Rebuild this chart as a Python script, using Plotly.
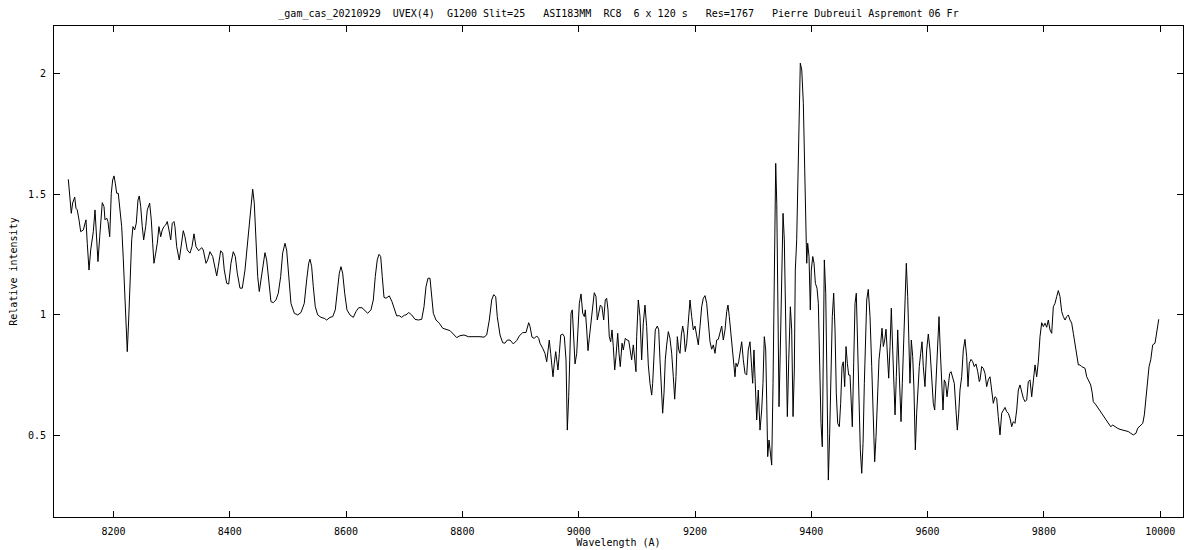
import plotly.graph_objects as go

title_text = "_gam_cas_20210929  UVEX(4)  G1200 Slit=25   ASI183MM  RC8  6 x 120 s   Res=1767   Pierre Dubreuil Aspremont 06 Fr"
x_label = "Wavelength (A)"
y_label = "Relative intensity"

x_ticks = [8200, 8400, 8600, 8800, 9000, 9200, 9400, 9600, 9800, 10000]
y_ticks = [0.5, 1, 1.5, 2]

wavelength = [
    8122.3, 8124.7, 8127.4, 8129.8, 8133.3, 8135.5, 8137.7, 8140.7, 8143.6, 8148.1,
    8152.7, 8154.9, 8157.9, 8160.8, 8162.5, 8165.3, 8168.2, 8171.1, 8173.3, 8176.3,
    8179.0, 8180.7, 8183.7, 8185.4, 8188.3, 8190.5, 8193.5, 8196.2, 8198.6, 8200.9,
    8203.1, 8205.5, 8208.2, 8211.2, 8214.1, 8216.8, 8219.8, 8222.0, 8223.7, 8226.1,
    8228.4, 8231.3, 8233.5, 8236.4, 8239.2, 8242.1, 8244.3, 8246.8, 8249.5, 8251.9,
    8255.4, 8258.1, 8262.2, 8265.0, 8267.4, 8269.6, 8272.6, 8275.3, 8278.2, 8281.2,
    8283.9, 8286.8, 8289.8, 8292.5, 8295.4, 8298.4, 8301.1, 8304.0,
    8305.7, 8308.7, 8313.1, 8317.3, 8320.0, 8322.9, 8326.9, 8331.5, 8335.0, 8338.4,
    8341.9, 8346.5, 8351.7, 8354.4, 8359.1, 8362.0, 8365.9, 8370.6, 8374.5, 8377.5,
    8380.2, 8384.3, 8387.8, 8390.5, 8394.7, 8398.1, 8402.0, 8406.0, 8409.5, 8412.9,
    8417.5, 8421.5, 8426.1, 8430.1, 8433.5, 8436.4, 8439.4, 8442.1, 8445.0, 8448.0,
    8450.7, 8453.6, 8457.6, 8460.5, 8463.4, 8466.9, 8470.8, 8474.8, 8479.4, 8483.4,
    8487.5, 8490.9, 8494.9, 8497.8, 8500.6,
    8505.2, 8510.9, 8516.8, 8522.4, 8528.1, 8532.2, 8535.7, 8537.9, 8540.8, 8543.6,
    8547.0, 8551.2, 8556.8, 8562.5, 8566.6, 8572.3, 8577.0, 8581.4, 8585.5, 8588.3,
    8591.2, 8594.1, 8597.6, 8601.5, 8606.7, 8612.4, 8617.0, 8621.7, 8627.3, 8632.0,
    8637.1, 8642.8, 8646.8, 8650.2, 8653.6, 8656.6, 8659.5, 8662.2, 8665.2, 8668.6,
    8674.3, 8678.9, 8682.9, 8687.0, 8691.5, 8695.6, 8700.1,
    8703.0, 8707.7, 8712.8, 8718.5, 8724.2, 8730.0, 8734.0, 8737.4, 8740.8, 8744.3,
    8747.2, 8750.0, 8754.6, 8760.3, 8766.1, 8773.0, 8778.7, 8784.4, 8790.2, 8795.9,
    8802.8, 8810.2, 8816.0, 8823.4, 8830.3, 8837.2, 8841.8, 8846.3, 8850.4, 8853.8,
    8857.3, 8860.0, 8864.7, 8869.3, 8873.2, 8877.2, 8881.9, 8887.6, 8893.4, 8897.9,
    8903.7, 8909.4, 8914.0, 8916.3, 8919.7, 8923.7, 8927.8, 8931.2, 8933.4, 8938.1,
    8942.0, 8945.0, 8947.2, 8949.4, 8951.8, 8954.1, 8955.8, 8958.0, 8960.5, 8962.2,
    8964.4, 8966.7, 8969.1, 8972.5, 8975.3, 8978.2, 8980.4, 8982.8, 8985.1, 8986.8,
    8989.0, 8991.4, 8993.7, 8996.6, 8998.8, 9001.1, 9004.0, 9006.9, 9009.7, 9011.4,
    9013.8, 9016.0, 9018.2, 9021.2, 9024.1, 9026.8, 9029.7, 9032.0, 9034.4, 9037.2,
    9040.0, 9043.0, 9045.7, 9048.1, 9050.4, 9052.6, 9055.0, 9057.3, 9059.5, 9061.9,
    9064.1, 9067.1, 9069.3, 9071.5, 9074.5, 9076.7, 9080.1, 9083.1, 9086.0, 9088.7,
    9091.1, 9093.9, 9096.3, 9098.5,
    9099.7, 9102.5, 9105.4, 9108.3, 9111.1, 9114.0, 9116.9, 9119.7, 9122.6, 9125.5,
    9127.2, 9129.5, 9131.7, 9135.2, 9137.6, 9139.8, 9142.0, 9144.4, 9146.7, 9148.9,
    9151.3, 9154.1, 9157.0, 9159.9, 9162.7, 9165.1, 9167.3, 9169.6, 9172.0, 9174.2,
    9176.5, 9178.8, 9181.1, 9183.3, 9185.7, 9188.5, 9191.4, 9194.3, 9197.1, 9200.0,
    9202.9, 9205.7, 9208.6, 9211.5, 9214.3, 9217.2, 9220.1, 9222.9, 9225.8, 9228.7,
    9231.5, 9234.4, 9237.3, 9240.1, 9243.0, 9245.9, 9248.7, 9251.6, 9254.5, 9256.7,
    9259.0, 9261.9, 9264.8, 9267.0, 9268.8, 9270.5, 9272.7, 9275.1, 9277.4, 9280.3,
    9283.1, 9286.0,
    9288.9, 9291.6, 9294.6, 9297.5, 9299.2, 9301.4, 9304.4, 9306.1, 9308.8, 9311.8,
    9314.7, 9316.9, 9319.2, 9321.6, 9323.3, 9325.0, 9327.3, 9329.5, 9331.9, 9334.2,
    9336.4, 9338.8, 9340.6, 9342.8, 9344.5, 9346.7, 9349.2, 9351.4, 9353.6, 9356.1,
    9358.8, 9361.2, 9364.0, 9366.3, 9368.6, 9370.8, 9372.5, 9374.9, 9376.7, 9379.0,
    9381.1, 9383.6, 9386.3, 9388.7, 9390.4, 9392.1, 9393.8, 9396.1, 9398.3, 9400.0,
    9402.5, 9404.7, 9407.0, 9409.8, 9412.1, 9414.4, 9416.7, 9418.9, 9420.7, 9422.4,
    9424.8, 9427.0, 9429.3, 9431.6, 9433.9, 9436.1, 9438.5, 9440.8, 9443.0, 9445.4,
    9448.2, 9450.5, 9452.8, 9455.0, 9457.4, 9459.7, 9462.0, 9464.3, 9466.6, 9468.8,
    9470.5, 9472.9, 9475.2, 9477.4, 9479.8, 9482.0, 9484.3, 9486.7, 9489.0, 9491.2,
    9495.3, 9498.0, 9501.0, 9503.9, 9506.6, 9509.0, 9511.3, 9513.5, 9516.4, 9519.4,
    9521.6, 9523.9, 9526.2, 9528.5, 9530.7, 9533.1, 9535.4, 9537.6, 9540.0, 9542.3,
    9544.0, 9546.2, 9548.6, 9550.8, 9552.5, 9554.3, 9556.5, 9558.9, 9561.1, 9563.4,
    9565.8, 9568.0, 9569.7, 9572.0, 9574.4, 9576.6, 9578.9, 9581.2, 9583.5, 9585.7,
    9588.1, 9590.4, 9592.6, 9595.5, 9598.4, 9601.2, 9604.1, 9607.0, 9609.8, 9612.2,
    9614.4, 9617.4, 9619.6, 9621.8, 9624.3, 9626.5, 9628.7, 9631.1, 9633.4, 9635.6,
    9638.0, 9640.3, 9643.1, 9645.9, 9648.8, 9651.1, 9653.5, 9655.7, 9658.6, 9661.4,
    9664.3, 9667.2, 9669.5, 9671.7, 9674.7, 9677.6, 9680.3, 9683.2, 9686.2, 9688.9,
    9690.1, 9693.0, 9695.8, 9698.7, 9701.6, 9704.3, 9707.3, 9710.2, 9713.0, 9715.9,
    9718.8, 9721.5, 9724.5, 9727.4, 9730.2, 9733.1, 9736.0, 9738.8, 9741.7, 9744.6,
    9747.4, 9750.3, 9753.2, 9756.0, 9758.9, 9761.8, 9764.6, 9767.5, 9770.4, 9773.2,
    9776.1, 9779.0, 9781.8, 9784.7, 9787.6, 9790.4, 9793.3, 9796.2, 9799.0, 9801.9,
    9804.8, 9807.6, 9810.5, 9813.4, 9816.2, 9819.1, 9822.0, 9824.8, 9827.7, 9830.6,
    9833.4, 9836.3, 9839.2, 9842.0, 9844.9, 9847.8, 9850.6, 9853.5, 9856.4, 9859.2,
    9862.1, 9865.0, 9870.7, 9873.6, 9876.3, 9880.5, 9883.2, 9884.9,
    9889.7, 9893.6, 9897.7, 9902.2, 9906.8, 9910.8, 9914.9, 9918.4, 9922.3, 9926.3,
    9930.9, 9935.6, 9939.5, 9945.2, 9949.3, 9953.8, 9958.4, 9961.4, 9965.3, 9970.0,
    9972.7, 9975.6, 9978.5, 9980.8, 9983.7, 9987.1, 9991.1, 9994.0, 9995.7, 9997.5,
]

intensity = [
    1.562, 1.504, 1.421, 1.464, 1.488, 1.442, 1.435, 1.394, 1.345, 1.352,
    1.394, 1.297, 1.186, 1.269, 1.297, 1.345, 1.435, 1.297, 1.221, 1.324,
    1.394, 1.465, 1.449, 1.394, 1.401, 1.387, 1.324, 1.504, 1.559, 1.576,
    1.546, 1.504, 1.504, 1.421, 1.366, 1.235, 1.090, 0.938, 0.848, 0.979,
    1.145, 1.311, 1.366, 1.352, 1.380, 1.476, 1.493, 1.449, 1.366, 1.311,
    1.366, 1.435, 1.463, 1.394, 1.297, 1.214, 1.256, 1.297, 1.366, 1.324,
    1.352, 1.366, 1.373, 1.387, 1.352, 1.311, 1.380, 1.387,
    1.366, 1.283, 1.228, 1.311, 1.349, 1.324, 1.269, 1.256, 1.283, 1.336,
    1.283, 1.266, 1.279, 1.269, 1.214, 1.228, 1.262, 1.242, 1.200, 1.162,
    1.200, 1.266, 1.256, 1.186, 1.131, 1.128, 1.214, 1.262, 1.242, 1.173,
    1.111, 1.111, 1.186, 1.283, 1.366, 1.463, 1.521, 1.463, 1.311, 1.159,
    1.097, 1.145, 1.228, 1.258, 1.228, 1.131, 1.055, 1.051, 1.062, 1.090,
    1.159, 1.256, 1.297, 1.269, 1.186,
    1.048, 1.007, 1.000, 1.010, 1.048, 1.145, 1.214, 1.231, 1.200, 1.117,
    1.034, 1.000, 0.990, 0.986, 0.979, 0.990, 0.993, 1.021, 1.104, 1.173,
    1.200, 1.173, 1.090, 1.021, 1.000, 0.990, 1.014, 1.030, 1.030, 1.018,
    1.007, 1.021, 1.062, 1.159, 1.228, 1.251, 1.242, 1.159, 1.073, 1.069,
    1.079, 1.055, 1.021, 0.996, 0.997, 0.990, 0.999,
    1.000, 1.010, 1.000, 0.982, 0.979, 0.982, 1.034, 1.117, 1.152, 1.152,
    1.090, 1.007, 0.979, 0.966, 0.945, 0.941, 0.935, 0.921, 0.906, 0.914,
    0.917, 0.910, 0.910, 0.913, 0.910, 0.908, 0.917, 0.979, 1.062, 1.084,
    1.076, 0.993, 0.917, 0.885, 0.883, 0.896, 0.896, 0.880, 0.894, 0.913,
    0.927, 0.927, 0.968, 0.952, 0.908, 0.903, 0.913, 0.903, 0.883, 0.862,
    0.841, 0.806, 0.848, 0.896, 0.841, 0.772, 0.744, 0.800, 0.848, 0.814,
    0.772, 0.841, 0.917, 0.921, 0.910, 0.814, 0.523, 0.661, 0.855, 1.007,
    1.021, 0.896, 0.797, 0.841, 0.979, 1.048, 1.087, 1.007, 0.993, 1.021,
    0.938, 0.852, 0.903, 0.966, 1.034, 1.092, 1.076, 0.979, 1.007, 1.041,
    1.034, 0.979, 1.062, 1.069, 1.021, 0.910, 0.889, 0.938, 0.869, 0.772,
    0.827, 0.924, 0.841, 0.786, 0.883, 0.855, 0.903, 0.896, 0.894, 0.855,
    0.814, 0.876, 0.800, 0.765,
    0.910, 1.062, 0.993, 0.814, 0.966, 1.041, 0.952, 0.793, 0.717, 0.668,
    0.717, 0.841, 0.938, 0.954, 0.938, 0.814, 0.703, 0.593, 0.676, 0.814,
    0.876, 0.931, 0.903, 0.841, 0.744, 0.651, 0.744, 0.910, 0.855, 0.841,
    0.917, 0.954, 0.924, 0.848, 0.883, 0.993, 1.062, 0.993, 0.938, 0.954,
    0.903, 0.876, 0.952, 1.034, 1.069, 1.080, 1.048, 0.979, 0.889, 0.858,
    0.876, 0.841, 0.896, 0.899, 0.924, 0.954, 0.896, 0.938, 1.014, 1.041,
    0.993, 0.924, 0.855, 0.800, 0.744, 0.800, 0.786, 0.806, 0.855, 0.889,
    0.814, 0.758,
    0.751, 0.855, 0.889, 0.772, 0.717, 0.855, 0.703, 0.565, 0.689, 0.523,
    0.606, 0.717, 0.910, 0.855, 0.648, 0.413, 0.482, 0.441, 0.378, 0.717,
    1.297, 1.628, 1.463, 1.034, 0.620, 0.855, 1.242, 1.421, 1.311, 0.896,
    0.579, 0.814, 1.034, 0.938, 0.579, 0.772, 1.186, 1.311, 1.490, 1.822,
    2.043, 2.015, 1.877, 1.601, 1.324, 1.214, 1.297, 1.242, 1.021, 1.186,
    1.242, 1.214, 1.131, 1.111, 1.048, 0.744, 0.551, 0.454, 0.855, 1.228,
    1.090, 0.717, 0.316, 0.510, 0.731, 0.993, 1.090, 0.938, 0.676, 0.551,
    0.537, 0.634, 0.786, 0.806, 0.703, 0.869, 0.800, 0.751, 0.751, 0.648,
    0.537, 0.800, 1.048, 1.090, 0.855, 0.606, 0.441, 0.344, 0.468, 0.717,
    1.062, 1.106, 0.993, 0.786, 0.523, 0.392, 0.496, 0.676, 0.814, 0.883,
    0.945, 0.869, 0.896, 0.941, 0.855, 0.738, 0.869, 1.028, 0.855, 0.689,
    0.586, 0.744, 0.938, 0.786, 0.661, 0.558, 0.717, 0.924, 1.104, 1.214,
    1.076, 0.855, 0.717, 0.896, 0.827, 0.689, 0.441, 0.593, 0.717, 0.786,
    0.841, 0.889, 0.786, 0.703, 0.855, 0.921, 0.855, 0.744, 0.634, 0.606,
    0.731, 0.883, 0.993, 0.855, 0.676, 0.606, 0.731, 0.717, 0.661, 0.717,
    0.758, 0.765, 0.744, 0.717, 0.606, 0.523, 0.593, 0.689, 0.744, 0.855,
    0.899, 0.827, 0.703, 0.800, 0.816, 0.806, 0.786, 0.797, 0.765, 0.724,
    0.731, 0.786, 0.779, 0.758, 0.703, 0.731, 0.744, 0.676, 0.634, 0.661,
    0.655, 0.579, 0.503, 0.593, 0.606, 0.617, 0.599, 0.593, 0.572, 0.537,
    0.558, 0.551, 0.606, 0.689, 0.710, 0.676, 0.655, 0.641, 0.648, 0.724,
    0.731, 0.661, 0.731, 0.793, 0.744, 0.806, 0.910, 0.968, 0.952, 0.966,
    0.949, 0.979, 0.938, 0.924, 1.034, 1.048, 1.076, 1.101, 1.076, 1.014,
    0.993, 0.979, 0.993, 1.000, 0.979, 0.966, 0.924, 0.883, 0.841, 0.793,
    0.793, 0.786, 0.779, 0.744, 0.731, 0.710, 0.676, 0.641,
    0.627, 0.613, 0.599, 0.586, 0.568, 0.554, 0.537, 0.544, 0.537, 0.531,
    0.526, 0.524, 0.521, 0.517, 0.510, 0.503, 0.510, 0.531, 0.540, 0.551,
    0.586, 0.648, 0.717, 0.786, 0.814, 0.876, 0.883, 0.924, 0.966, 0.982,
]

FONT = "DejaVu Sans Mono"
NB = "\u00a0"

fig = go.Figure()
fig.add_trace(go.Scatter(
    x=wavelength, y=intensity, mode="lines",
    line=dict(color="black", width=1), hoverinfo="skip", showlegend=False,
))

axis_common = dict(
    showline=True, linecolor="black", linewidth=1, mirror="ticks",
    ticks="inside", ticklen=6, tickcolor="black", tickwidth=1,
    showgrid=False, zeroline=False, ticklabelstandoff=5,
    tickfont=dict(family=FONT, size=10, color="black"),
)

fig.update_xaxes(
    range=[8097.7, 10039.2], tickvals=x_ticks,
    ticktext=[str(v) for v in x_ticks],
    title=dict(text=x_label, font=dict(family=FONT, size=10, color="black"), standoff=2),
    **axis_common,
)
fig.update_yaxes(
    range=[0.163, 2.197], tickvals=y_ticks,
    ticktext=["0.5", "1", "1.5", "2"],
    title=dict(text=y_label, font=dict(family=FONT, size=10, color="black"), standoff=8),
    **axis_common,
)

fig.update_layout(
    width=1200, height=550,
    margin=dict(l=46, r=25, t=18, b=41, autoexpand=False),
    paper_bgcolor="white", plot_bgcolor="white",
    title=dict(text=title_text.replace(" ", NB), x=0.5, xref="paper", xanchor="center",
               y=1 - 5 / 550, yanchor="middle", yref="container",
               font=dict(family=FONT, size=10, color="black")),
)

fig.write_html("out.html")
